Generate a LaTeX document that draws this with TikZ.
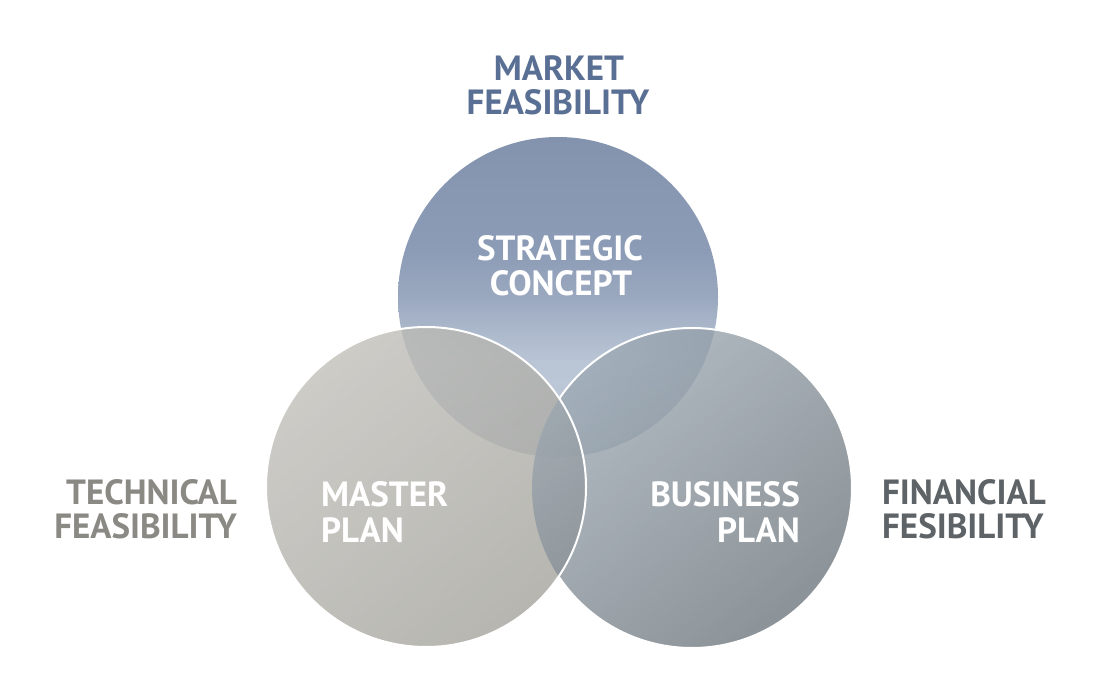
\documentclass[tikz,border=0pt]{standalone}
\usepackage{fontspec}
\setmainfont{PT Sans}
\definecolor{tc0}{HTML}{8393AE}
\definecolor{tc1}{HTML}{8D9CB6}
\definecolor{tc2}{HTML}{9AA8BF}
\definecolor{tc3}{HTML}{ABB8CB}
\definecolor{tc4}{HTML}{B9C5D5}
\definecolor{tc5}{HTML}{C2CCDA}
\definecolor{leftlight}{HTML}{BEBCB6}
\definecolor{leftdark}{HTML}{A09F98}
\definecolor{rightlight}{HTML}{9BA7B1}
\definecolor{rightdark}{HTML}{687178}
\definecolor{marketcol}{HTML}{5A6F94}
\definecolor{techcol}{HTML}{8A8983}
\definecolor{fincol}{HTML}{5E6367}
\pgfdeclareverticalshading{topsh}{100bp}{color(0bp)=(tc5); color(25bp)=(tc5); color(40bp)=(tc4); color(45bp)=(tc3); color(50bp)=(tc2); color(57bp)=(tc1); color(75bp)=(tc0); color(100bp)=(tc0)}
\begin{document}
\begin{tikzpicture}[x=1pt,y=-1pt,
  lbl/.style={inner sep=0pt, font=\fontsize{35}{37}\selectfont\bfseries},
  border/.style={draw=white, line width=2pt}]
\useasboundingbox[fill=white] (0,0) rectangle (1100,700);
% top circle
\shade[shading=topsh] (558,297) circle[radius=160];
% left circle fill
\shade[top color=leftlight, bottom color=leftdark, shading angle=40, fill opacity=0.76] (426,487) circle[radius=160];
% right circle fill
\shade[top color=rightlight, bottom color=rightdark, shading angle=40, fill opacity=0.76] (692,488) circle[radius=160];
% right circle border, outside the left circle only
\begin{scope}[even odd rule]
  \clip (0,0) rectangle (1100,700) (426,487) circle[radius=160];
  \draw[border] (692,488) circle[radius=160];
\end{scope}
% left circle border
\draw[border] (426,487) circle[radius=160];
% outer labels
\node[lbl, text=marketcol, anchor=base] (mk1) at (559,81) {MARKET};
\node[lbl, text=marketcol, anchor=base] (mk2) at (558,115) {FEASIBILITY};
\node[lbl, text=techcol, anchor=base east] (te1) at (237,504) {TECHNICAL};
\node[lbl, text=techcol, anchor=base east] (te2) at (237,538) {FEASIBILITY};
\node[lbl, text=fincol, anchor=base west] (fi1) at (882,504) {FINANCIAL};
\node[lbl, text=fincol, anchor=base west] (fi2) at (882,538) {FESIBILITY};
% inner labels
\node[lbl, text=white, anchor=base] (st1) at (560,261) {STRATEGIC};
\node[lbl, text=white, anchor=base] (st2) at (561,296) {CONCEPT};
\node[lbl, text=white, anchor=base west] (ma1) at (321,506) {MASTER};
\node[lbl, text=white, anchor=base west] (ma2) at (321,542) {PLAN};
\node[lbl, text=white, anchor=base east] (bu1) at (800,506) {BUSINESS};
\node[lbl, text=white, anchor=base east] (bu2) at (800,542) {PLAN};
\end{tikzpicture}
\end{document}
